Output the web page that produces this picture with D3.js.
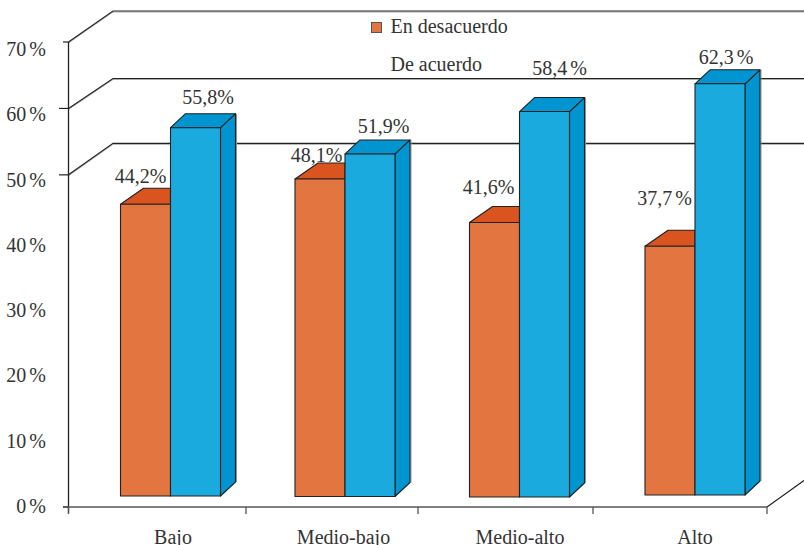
<!DOCTYPE html>
<html><head><meta charset="utf-8">
<script src="https://cdn.jsdelivr.net/npm/d3@7/dist/d3.min.js"></script>
<style>html,body{margin:0;background:#fff}svg{display:block}text{font-family:"Liberation Serif",serif;fill:#333}</style>
</head><body><div id="c"></div>
<script>
const categories = ["Bajo","Medio-bajo","Medio-alto","Alto"];
const seriesNames = ["En desacuerdo","De acuerdo"];
const enDesacuerdo = [44.2,48.1,41.6,37.7];
const deAcuerdo = [55.8,51.9,58.4,62.3];
const labelsDesacuerdo = ["44,2%","48,1%","41,6%","37,7 %"];
const labelsAcuerdo = ["55,8%","51,9%","58,4 %","62,3 %"];
const axisTicks = [0,10,20,30,40,50,60,70];

const W=804,H=545,FS=20,WS=-2;
const svg=d3.select("#c").append("svg").attr("width",W).attr("height",H);
const y=d3.scaleLinear().domain([0,70]).range([507,42]);
const yLabel=d3.scaleLinear().domain([0,70]).range([513,56]);
const xTick=d3.scaleLinear().domain([0,1,2,3,4]).range([68.5,246,418,593,767]);
const xBar=d3.scaleLinear().domain([0,1,2,3]).range([170.5,345,519.5,695]);
const h=d3.scaleLinear().domain([0,100]).range([0,660]);
const base=[496,496.5,497,495];
const dark="#222";

// back-wall gridlines with their side-wall diagonals
const wall=[[50,143.3],[60,78.5],[70,11]];
wall.forEach(([v,yb])=>{
  const p=d3.path();p.moveTo(68.5,y(v));p.lineTo(113,yb);p.lineTo(W,yb);
  svg.append("path").attr("d",p).attr("fill","none").attr("stroke","#aaa").attr("stroke-width",1).attr("transform","translate(0,1)");
  svg.append("path").attr("d",p).attr("fill","none").attr("stroke",dark).attr("stroke-width",1.2);
});
// floor diagonal
svg.append("line").attr("x1",767).attr("y1",y(0)).attr("x2",W).attr("y2",y(0)-26.5).attr("stroke",dark).attr("stroke-width",1.2);

// axes
const gy=svg.append("g");
gy.append("line").attr("x1",68.5).attr("x2",68.5).attr("y1",y(70)).attr("y2",y(0)+6).attr("stroke",dark).attr("stroke-width",1.3);
axisTicks.forEach(v=>{
  if(v>=50||v===0) gy.append("line").attr("x1",v===70||v===0?63:59).attr("x2",68.5).attr("y1",y(v)).attr("y2",y(v)).attr("stroke",dark).attr("stroke-width",1.2);
  gy.append("text").attr("x",46).attr("y",yLabel(v)).attr("text-anchor","end").attr("font-size",FS).attr("word-spacing",WS).text(v+" %");
});
const gx=svg.append("g");
gx.append("line").attr("x1",63).attr("x2",767).attr("y1",y(0)).attr("y2",y(0)).attr("stroke","#555").attr("stroke-width",1.6);
d3.range(5).forEach(i=>gx.append("line").attr("x1",xTick(i)).attr("x2",xTick(i)).attr("y1",y(0)).attr("y2",y(0)+7).attr("stroke","#555").attr("stroke-width",1.3));
const labelShift=[2.5,-1.5,0.5,0];
categories.forEach((c,i)=>svg.append("text").attr("x",xBar(i)+labelShift[i]).attr("y",543.5).attr("text-anchor","middle").attr("font-size",FS).text(c));

// bars
const W1=50,oDx=23,oDy=-16,bDx=15,bDy=-14;
const poly=pts=>"M"+pts.map(p=>p.join(",")).join("L")+"Z";
const g=svg.append("g").attr("stroke",dark).attr("stroke-width",1.1).attr("stroke-linejoin","round");
categories.forEach((c,i)=>{
  const xm=xBar(i),b=base[i];
  const tO=b-h(enDesacuerdo[i]),tA=b-h(deAcuerdo[i]);
  g.append("path").attr("d",poly([[xm-W1,tO],[xm-W1+oDx,tO+oDy],[xm,tO+oDy],[xm,tO]])).attr("fill","#d9541e");
  g.append("rect").attr("x",xm-W1).attr("y",tO).attr("width",W1).attr("height",b-tO).attr("fill","#e27540");
  // soft grey edge on the right of the blue side face
  g.append("line").attr("x1",xm+W1+bDx+1).attr("x2",xm+W1+bDx+1).attr("y1",tA+bDy).attr("y2",b+bDy).attr("stroke","#999");
  g.append("path").attr("d",poly([[xm+W1,tA],[xm+W1+bDx,tA+bDy],[xm+W1+bDx,b+bDy],[xm+W1,b]])).attr("fill","#0095d0");
  g.append("path").attr("d",poly([[xm,tA],[xm+bDx,tA+bDy],[xm+W1+bDx,tA+bDy],[xm+W1,tA]])).attr("fill","#0095d0");
  g.append("rect").attr("x",xm).attr("y",tA).attr("width",W1).attr("height",b-tA).attr("fill","#1aaade");
});

// value labels (hand-placed in the source)
const oOff=[[-30,-21],[-28.5,-17],[-31,-28],[-30.5,-41]];
const bOff=[[37.5,-24],[38.5,-21],[40,-37],[31,-20]];
categories.forEach((c,i)=>{
  const xm=xBar(i),b=base[i];
  const tO=b-h(enDesacuerdo[i]),tA=b-h(deAcuerdo[i]);
  svg.append("text").attr("x",xm+oOff[i][0]).attr("y",tO+oOff[i][1]).attr("text-anchor","middle").attr("font-size",FS).attr("word-spacing",WS).text(labelsDesacuerdo[i]);
  svg.append("text").attr("x",xm+bOff[i][0]).attr("y",tA+bOff[i][1]).attr("text-anchor","middle").attr("font-size",FS).attr("word-spacing",WS).text(labelsAcuerdo[i]);
});

// legend
svg.append("rect").attr("x",371.5).attr("y",22.5).attr("width",10).attr("height",10).attr("fill","#e27540").attr("stroke","#555");
svg.append("text").attr("x",390.5).attr("y",33).attr("font-size",FS).text(seriesNames[0]);
svg.append("text").attr("x",390.5).attr("y",71).attr("font-size",FS).text(seriesNames[1]);
</script></body></html>
